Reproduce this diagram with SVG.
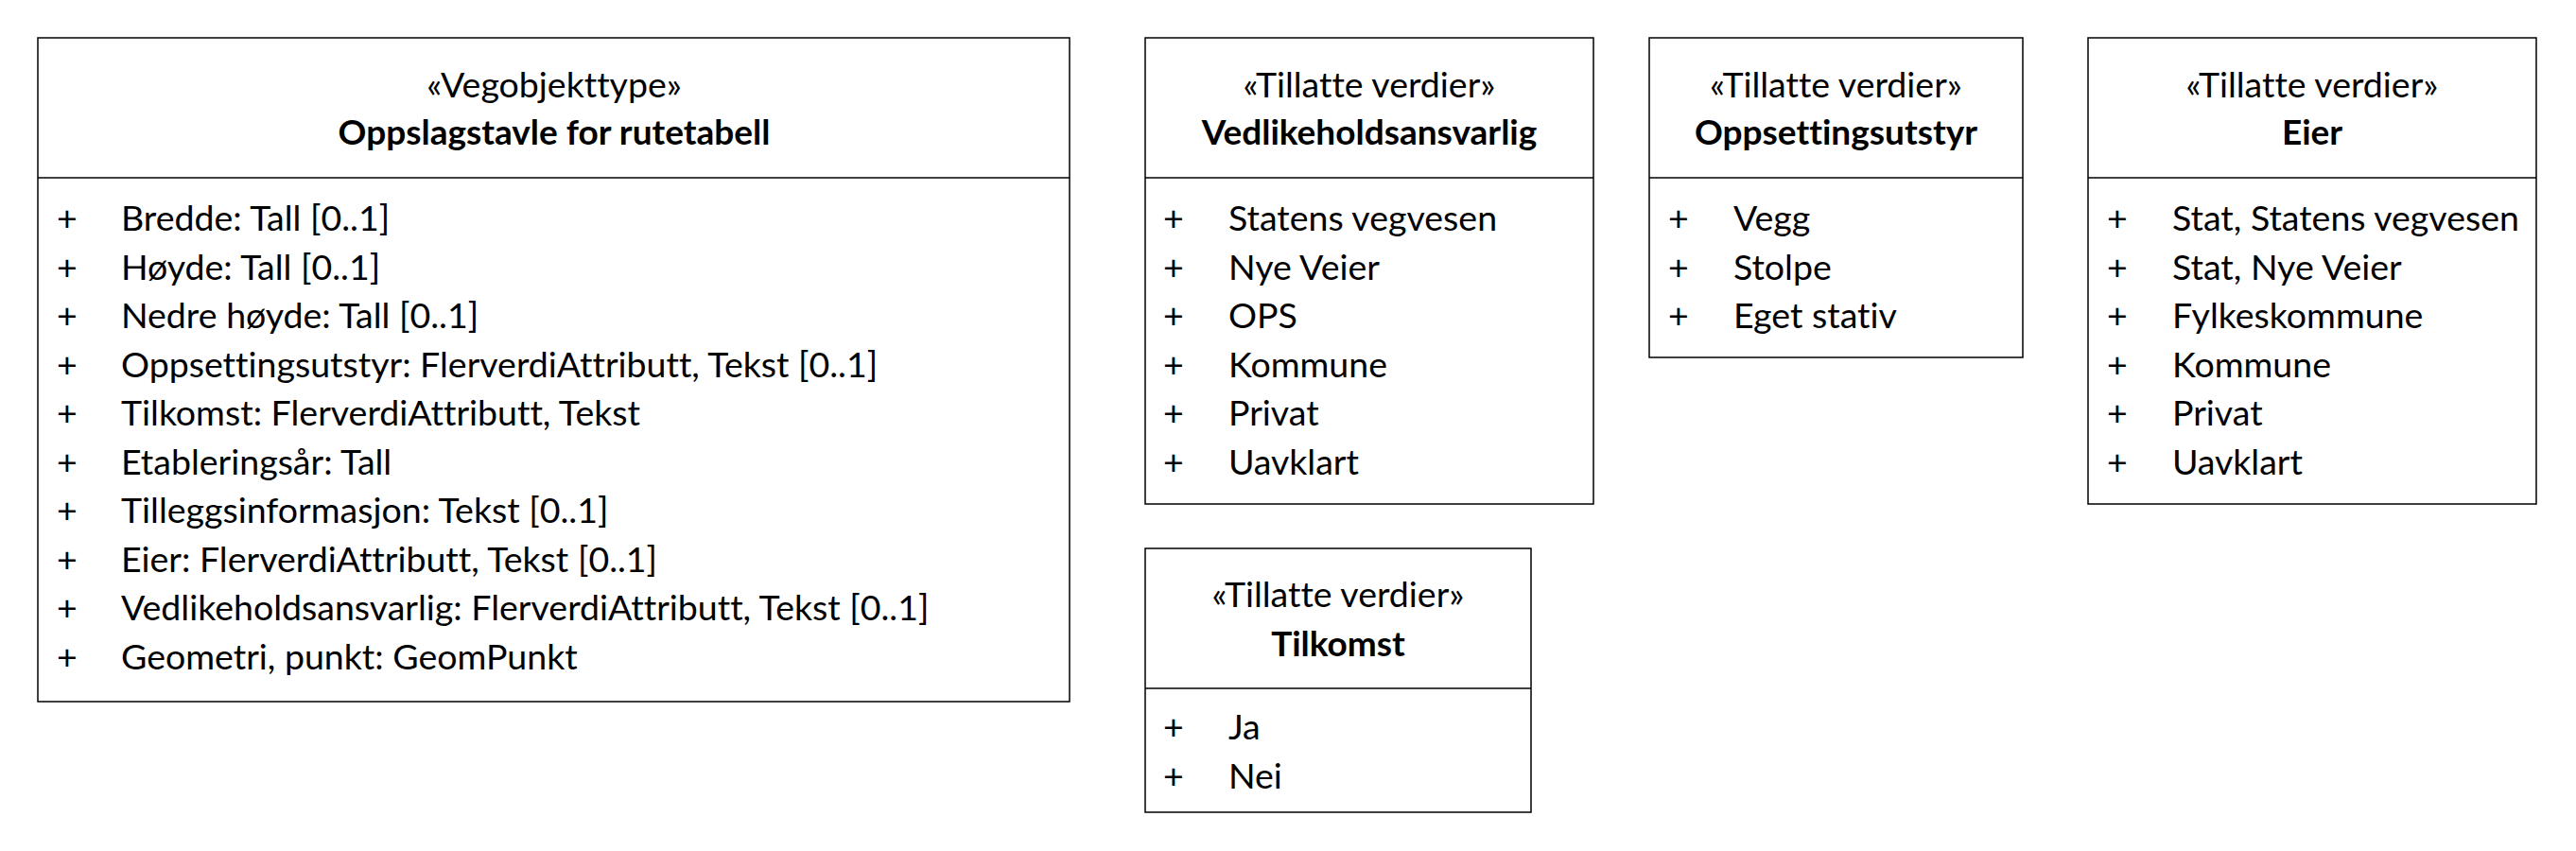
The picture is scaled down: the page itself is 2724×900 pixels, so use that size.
<svg xmlns="http://www.w3.org/2000/svg" width="2724" height="900" viewBox="0 0 2724 900">
<style>
.box{fill:#fff;stroke:#000;stroke-width:1.5}
.sep{stroke:#000;stroke-width:1.5}
text{font-family:Lato,"Liberation Sans",sans-serif;font-size:37.5px;fill:#000;font-variant-ligatures:none}
.c{text-anchor:middle}
.b{font-weight:bold;font-size:37px}
</style>
<rect width="2724" height="900" fill="#fff"/>
<g id="connectors"></g>
<g id="node-oppslagstavle">
<rect class="box" x="40" y="40" width="1091" height="702"/>
<line class="sep" x1="40" y1="188" x2="1131" y2="188"/>
<text class="c" x="586" y="103">«Vegobjekttype»</text>
<text class="c b" x="586" y="153">Oppslagstavle for rutetabell</text>
<text x="60" y="244">+</text><text x="128" y="244">Bredde: Tall [0..1]</text>
<text x="60" y="295.5">+</text><text x="128" y="295.5">Høyde: Tall [0..1]</text>
<text x="60" y="347">+</text><text x="128" y="347">Nedre høyde: Tall [0..1]</text>
<text x="60" y="398.5">+</text><text x="128" y="398.5">Oppsettingsutstyr: FlerverdiAttributt, Tekst [0..1]</text>
<text x="60" y="450">+</text><text x="128" y="450">Tilkomst: FlerverdiAttributt, Tekst</text>
<text x="60" y="501.5">+</text><text x="128" y="501.5">Etableringsår: Tall</text>
<text x="60" y="553">+</text><text x="128" y="553">Tilleggsinformasjon: Tekst [0..1]</text>
<text x="60" y="604.5">+</text><text x="128" y="604.5">Eier: FlerverdiAttributt, Tekst [0..1]</text>
<text x="60" y="656">+</text><text x="128" y="656">Vedlikeholdsansvarlig: FlerverdiAttributt, Tekst [0..1]</text>
<text x="60" y="707.5">+</text><text x="128" y="707.5">Geometri, punkt: GeomPunkt</text>
</g>
<g id="node-vedlikeholdsansvarlig">
<rect class="box" x="1211" y="40" width="474" height="493"/>
<line class="sep" x1="1211" y1="188" x2="1685" y2="188"/>
<text class="c" x="1448" y="103">«Tillatte verdier»</text>
<text class="c b" x="1448" y="153">Vedlikeholdsansvarlig</text>
<text x="1230" y="244">+</text><text x="1299" y="244">Statens vegvesen</text>
<text x="1230" y="295.5">+</text><text x="1299" y="295.5">Nye Veier</text>
<text x="1230" y="347">+</text><text x="1299" y="347">OPS</text>
<text x="1230" y="398.5">+</text><text x="1299" y="398.5">Kommune</text>
<text x="1230" y="450">+</text><text x="1299" y="450">Privat</text>
<text x="1230" y="501.5">+</text><text x="1299" y="501.5">Uavklart</text>
</g>
<g id="node-oppsettingsutstyr">
<rect class="box" x="1744" y="40" width="395" height="338"/>
<line class="sep" x1="1744" y1="188" x2="2139" y2="188"/>
<text class="c" x="1941.5" y="103">«Tillatte verdier»</text>
<text class="c b" x="1941.5" y="153">Oppsettingsutstyr</text>
<text x="1764" y="244">+</text><text x="1833" y="244">Vegg</text>
<text x="1764" y="295.5">+</text><text x="1833" y="295.5">Stolpe</text>
<text x="1764" y="347">+</text><text x="1833" y="347">Eget stativ</text>
</g>
<g id="node-eier">
<rect class="box" x="2208" y="40" width="474" height="493"/>
<line class="sep" x1="2208" y1="188" x2="2682" y2="188"/>
<text class="c" x="2445" y="103">«Tillatte verdier»</text>
<text class="c b" x="2445" y="153">Eier</text>
<text x="2228" y="244">+</text><text x="2297" y="244">Stat, Statens vegvesen</text>
<text x="2228" y="295.5">+</text><text x="2297" y="295.5">Stat, Nye Veier</text>
<text x="2228" y="347">+</text><text x="2297" y="347">Fylkeskommune</text>
<text x="2228" y="398.5">+</text><text x="2297" y="398.5">Kommune</text>
<text x="2228" y="450">+</text><text x="2297" y="450">Privat</text>
<text x="2228" y="501.5">+</text><text x="2297" y="501.5">Uavklart</text>
</g>
<g id="node-tilkomst">
<rect class="box" x="1211" y="580" width="408" height="279"/>
<line class="sep" x1="1211" y1="728" x2="1619" y2="728"/>
<text class="c" x="1415" y="642">«Tillatte verdier»</text>
<text class="c b" x="1415" y="694">Tilkomst</text>
<text x="1230" y="782">+</text><text x="1299" y="782">Ja</text>
<text x="1230" y="834">+</text><text x="1299" y="834">Nei</text>
</g>
</svg>
